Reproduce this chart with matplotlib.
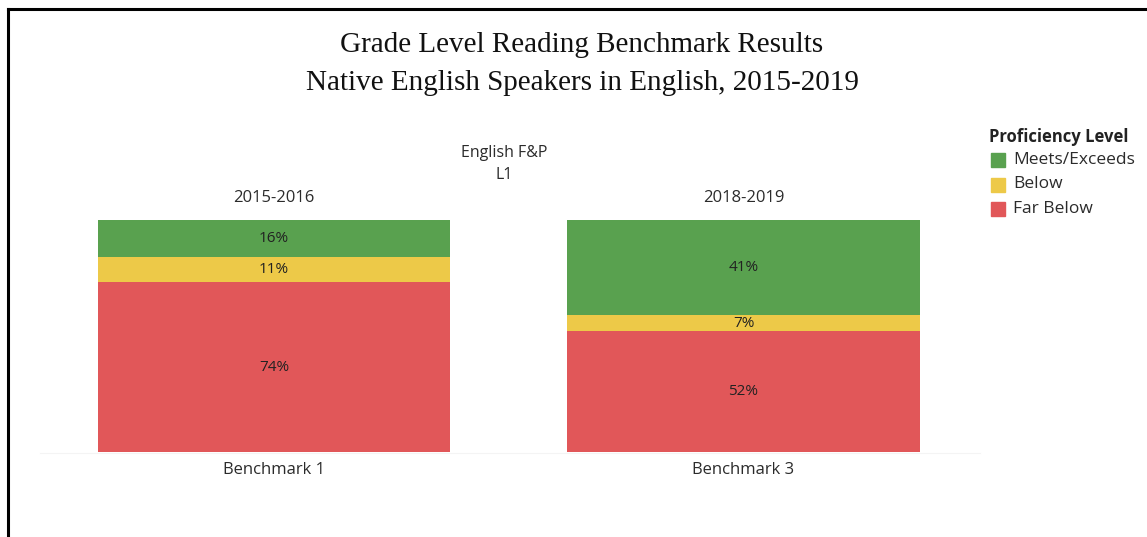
import numpy as np
import matplotlib as mpl
mpl.use('Agg')
import matplotlib.pyplot as plt
from matplotlib.lines import Line2D
from matplotlib.patches import Rectangle

# proficiency shares per benchmark, in percent (top to bottom of each stack)
levels = ['Meets/Exceeds', 'Below', 'Far Below']
colors = ['#59A14F', '#EDC948', '#E15759']
years = ['2015-2016', '2018-2019']
benchmarks = ['Benchmark 1', 'Benchmark 3']
meets = [16, 41]
below = [11, 7]
far_below = [74, 52]

W, H = 1147, 537
fig = plt.figure(figsize=(W / 100., H / 100.), dpi=100)
fig.patch.set_facecolor('white')

def fx(px):
    return px / float(W)

def fy(py):
    return 1 - py / float(H)

sans = ['Open Sans', 'DejaVu Sans']
txt = '#2b2b2b'

# frame lines along the top and left
fig.add_artist(Line2D([fx(8), 1], [fy(9), fy(9)], color='black', lw=2.2))
fig.add_artist(Line2D([fx(8), fx(8)], [fy(9), 0], color='black', lw=2.2))

fig.text(fx(582), fy(45), 'Grade Level Reading Benchmark Results', ha='center', va='center',
         family='Liberation Serif', fontsize=21, color='#111111')
fig.text(fx(582), fy(83), 'Native English Speakers in English, 2015-2019', ha='center', va='center',
         family='Liberation Serif', fontsize=21, color='#111111')

fig.text(fx(504), fy(153), 'English F&P', ha='center', va='center', family=sans, fontsize=11.5, color=txt)
fig.text(fx(504), fy(175), 'L1', ha='center', va='center', family=sans, fontsize=11.5, color=txt)

panels = [(98, 450), (567, 920)]
for i, (x0, x1) in enumerate(panels):
    ax = fig.add_axes([fx(x0), fy(452), fx(x1 - x0), fy(220) - fy(452)])
    vals = [meets[i], below[i], far_below[i]]
    total = sum(vals)
    bottom = total
    for v, c in zip(vals, colors):
        bottom -= v
        ax.bar(0, v, bottom=bottom, width=1.0, color=c, edgecolor='none')
        ax.text(0, bottom + v / 2., '%d%%' % v, ha='center', va='center',
                family=sans, fontsize=11, color='#222222')
    ax.set_xlim(-0.5, 0.5)
    ax.set_ylim(0, total)
    ax.axis('off')
    xc = (x0 + x1) / 2.
    fig.text(fx(xc), fy(198), years[i], ha='center', va='center', family=sans, fontsize=12, color=txt)
    fig.text(fx(xc), fy(470), benchmarks[i], ha='center', va='center', family=sans, fontsize=12, color=txt)

# faint baseline ticks
fig.add_artist(Line2D([fx(40), fx(980)], [fy(453), fy(453)], color='#f4f4f4', lw=0.8))

# legend
fig.text(fx(989), fy(137), 'Proficiency Level', ha='left', va='center', family=sans,
         fontsize=12, fontweight='bold', color='#222222')
for j, (lab, c) in enumerate(zip(levels, colors)):
    yc = 160 + j * 24.5
    fig.add_artist(Rectangle((fx(991), fy(yc + 7)), fx(14), fy(yc - 7) - fy(yc + 7),
                             transform=fig.transFigure, color=c))
    fig.text(fx(1013), fy(yc), lab, ha='left', va='center', family=sans, fontsize=12.5, color=txt)

fig.savefig('out.png', dpi=100)
